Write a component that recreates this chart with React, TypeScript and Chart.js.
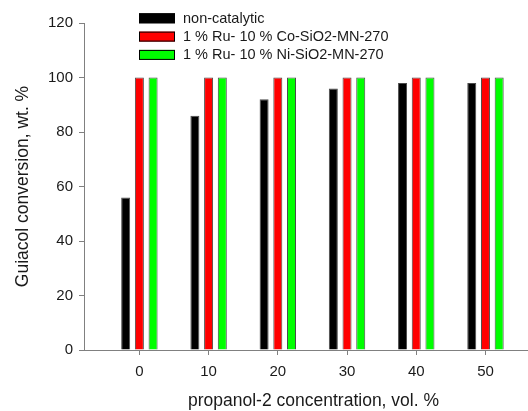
import React, { useEffect, useRef } from "react";
import { Chart, registerables } from "chart.js";

Chart.register(...registerables);

const concentrations = [0, 10, 20, 30, 40, 50];
const nonCatalytic = [56, 86, 92, 96, 98, 98];
const coCatalyst = [100, 100, 100, 100, 100, 100];
const niCatalyst = [100, 100, 100, 100, 100, 100];
const seriesLabels = [
  "non-catalytic",
  "1 % Ru- 10 % Co-SiO2-MN-270",
  "1 % Ru- 10 % Ni-SiO2-MN-270",
];
const seriesColors = ["#000000", "#ff0000", "#00ff00"];
const xTitle = "propanol-2 concentration, vol. %";
const yTitle = "Guiacol conversion, wt. %";

const FONT = "'Liberation Sans', Arial, sans-serif";
const TEXT = "#1a1a1a";
const AXIS = "#808080";

const overlay = {
  id: "overlay",
  afterDraw(chart: any) {
    const ctx = chart.ctx as CanvasRenderingContext2D;
    const a = chart.chartArea;
    ctx.save();
    ctx.font = `14.5px ${FONT}`;
    ctx.textBaseline = "middle";
    ctx.textAlign = "left";
    seriesLabels.forEach((lab, i) => {
      const y = a.top - 4.7 + i * 18.3;
      ctx.fillStyle = seriesColors[i];
      ctx.fillRect(a.left + 55, y - 5, 36, 10);
      ctx.strokeStyle = "#000";
      ctx.lineWidth = 1;
      ctx.strokeRect(a.left + 55.5, y - 4.5, 35, 9);
      ctx.fillStyle = TEXT;
      ctx.fillText(lab, a.left + 99, y + 0.5);
    });
    ctx.font = `17.5px ${FONT}`;
    ctx.textAlign = "center";
    ctx.fillStyle = TEXT;
    ctx.fillText(xTitle, (a.left + a.right) / 2 + 8, a.bottom + 51.5);
    ctx.translate(a.left - 61, (a.top + a.bottom) / 2);
    ctx.rotate(-Math.PI / 2);
    ctx.fillText(yTitle, 0, 0);
    ctx.restore();
  },
};

export default function App() {
  const ref = useRef<HTMLCanvasElement | null>(null);
  useEffect(() => {
    document.body.style.margin = "0";
    const canvas = ref.current;
    if (!canvas) return;
    const series = [nonCatalytic, coCatalyst, niCatalyst];
    const chart = new Chart(canvas, {
      type: "bar",
      data: {
        datasets: series.map((vals, i) => ({
          label: seriesLabels[i],
          data: concentrations.map((c, j) => ({ x: c, y: vals[j] })),
          backgroundColor: seriesColors[i],
          borderColor: "#4a4a4a",
          borderWidth: 1,
          categoryPercentage: 0.594,
          barPercentage: 0.657,
        })),
      },
      options: {
        responsive: false,
        animation: false,
        devicePixelRatio: 1,
        layout: { padding: { top: 23, right: 1, left: 0, bottom: 0 } },
        plugins: {
          legend: { display: false },
          tooltip: { enabled: false },
        },
        scales: {
          x: {
            type: "linear",
            min: -8,
            max: 56,
            offset: false,
            afterBuildTicks: (s: any) => {
              s.ticks = concentrations.map((v) => ({ value: v }));
            },
            afterFit: (s: any) => {
              s.height = 61;
            },
            grid: {
              offset: false,
              drawOnChartArea: false,
              drawTicks: true,
              tickLength: 5,
              color: AXIS,
            },
            border: { display: true, color: AXIS, width: 1 },
            ticks: {
              font: { family: FONT, size: 15 },
              color: TEXT,
              padding: 8,
              maxRotation: 0,
              autoSkip: false,
            },
          },
          y: {
            type: "linear",
            min: 0,
            max: 120,
            afterFit: (s: any) => {
              s.width = 84;
            },
            grid: {
              drawOnChartArea: false,
              drawTicks: true,
              tickLength: 5,
              color: AXIS,
            },
            border: { display: true, color: AXIS, width: 1 },
            ticks: {
              stepSize: 20,
              font: { family: FONT, size: 15 },
              color: TEXT,
              padding: 6,
            },
          },
        },
      },
      plugins: [overlay],
    });
    return () => chart.destroy();
  }, []);
  return (
    <div style={{ width: 528, height: 411 }}>
      <canvas ref={ref} width={528} height={411} style={{ display: "block" }} />
    </div>
  );
}
